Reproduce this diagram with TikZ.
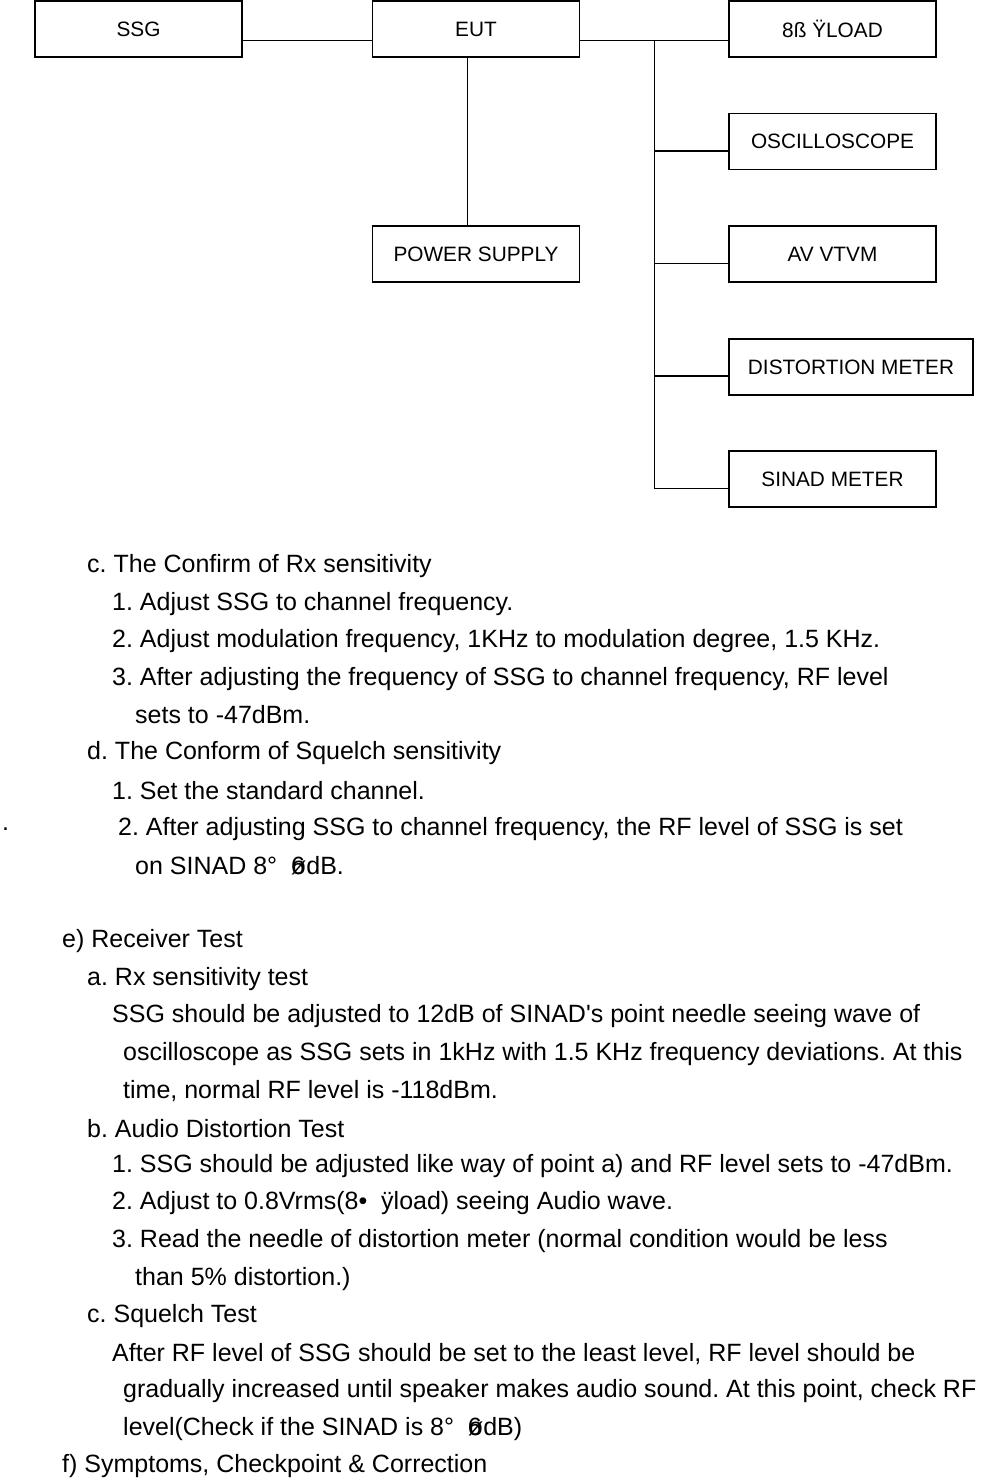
\documentclass[tikz,border=0pt]{standalone}
\usepackage{fontspec}
\setmainfont{Liberation Sans}
\usetikzlibrary{positioning, calc}

\begin{document}
\frenchspacing
\begin{tikzpicture}[x=1pt, y=-1pt,
    unit/.style={draw, line width=1.2pt, minimum width=207pt, minimum height=56pt, inner sep=0pt, font=\fontsize{20.8}{24}\selectfont},
    txt/.style={anchor=west, inner sep=0pt, yshift=-2pt, font=\fontsize{25}{29}\selectfont},
    wire/.style={line width=1pt},
    thickwire/.style={line width=2pt}]
      \useasboundingbox (0,0) rectangle (983,1478);

      % test set-up
      \node[unit] (ssg) at (138.5,29) {SSG};
      \node[unit] (eut) at (476,29) {EUT};
      \node[unit] (load) at (832.5,29) {8ß ŸLOAD};
      \node[unit] (scope) at (832.5,141.5) {OSCILLOSCOPE};
      \node[unit] (psu) at (476,254) {POWER SUPPLY};
      \node[unit] (vtvm) at (832.5,254) {AV VTVM};
      \node[unit, minimum width=244pt] (dist) at (851,367) {DISTORTION METER};
      \node[unit] (sinad) at (832.5,479) {SINAD METER};

      \draw[wire] ([yshift=-11]ssg.east) -- ([yshift=-11]eut.west);
      \draw[wire] ([yshift=-11]eut.east) -- ([yshift=-11]load.west);
      \draw[wire] ([xshift=-9]eut.south) -- ([xshift=-9]psu.north);
      \coordinate (bus) at (654,40);
      \draw[wire] (bus) |- ([yshift=-9]sinad.west);
      \draw[thickwire] (bus |- 0,151) -- ([yshift=-9.5]scope.west);
      \draw[wire] (bus |- 0,263) -- ([yshift=-9]vtvm.west);
      \draw[thickwire] (bus |- 0,376) -- ([yshift=-9]dist.west);

      % procedure text
      \node[txt] (c1) at (87,564) {c. The Confirm of Rx sensitivity};
      \node[txt] (c2) at (112,602) {1. Adjust SSG to channel frequency.};
      \node[txt] (c3) at (112,639) {2. Adjust modulation frequency, 1KHz to modulation degree, 1.5 KHz.};
      \node[txt] (c4) at (112,677) {3. After adjusting the frequency of SSG to channel frequency, RF level};
      \node[txt] (c5) at (135,713) {sets to -47dBm.};
      \node[txt] (d1) at (87,751) {d. The Conform of Squelch sensitivity};
      \node[txt] (d2) at (112,789) {1. Set the standard channel.};
      \node[txt] (dot) at (2,827) {.};
      \node[txt] (d3) at (118,827) {2. After adjusting SSG to channel frequency, the RF level of SSG is set};
      \node[txt] (d4) at (135,864) {on SINAD 8°\ \ \rlap{6}ødB.};
      \node[txt] (e1) at (62,939) {e) Receiver Test};
      \node[txt] (e2) at (87,977) {a. Rx sensitivity test};
      \node[txt] (e3) at (112,1014) {SSG should be adjusted to 12dB of SINAD\textquotesingle s point needle seeing wave of};
      \node[txt] (e4) at (123,1052) {oscilloscope as SSG sets in 1kHz with 1.5 KHz frequency deviations. At this};
      \node[txt] (e5) at (123,1089) {time, normal RF level is -118dBm.};
      \node[txt] (b1) at (87,1127) {b. Audio Distortion Test};
      \node[txt] (b2) at (112,1164) {1. SSG should be adjusted like way of point a) and RF level sets to -47dBm.};
      \node[txt] (b3) at (112,1201) {2. Adjust to 0.8Vrms(8•\ \ ÿload) seeing Audio wave.};
      \node[txt] (b4) at (112,1239) {3. Read the needle of distortion meter (normal condition would be less};
      \node[txt] (b5) at (135,1277) {than 5\% distortion.)};
      \node[txt] (s1) at (87,1314) {c. Squelch Test};
      \node[txt] (s2) at (112,1352) {After RF level of SSG should be set to the least level, RF level should be};
      \node[txt] (s3) at (123,1389) {gradually increased until speaker makes audio sound. At this point, check RF};
      \node[txt] (s4) at (123,1427) {level(Check if the SINAD is 8°\ \ \rlap{6}ødB)};
      \node[txt] (f1) at (62,1464) {f) Symptoms, Checkpoint \& Correction};
\end{tikzpicture}
\end{document}
